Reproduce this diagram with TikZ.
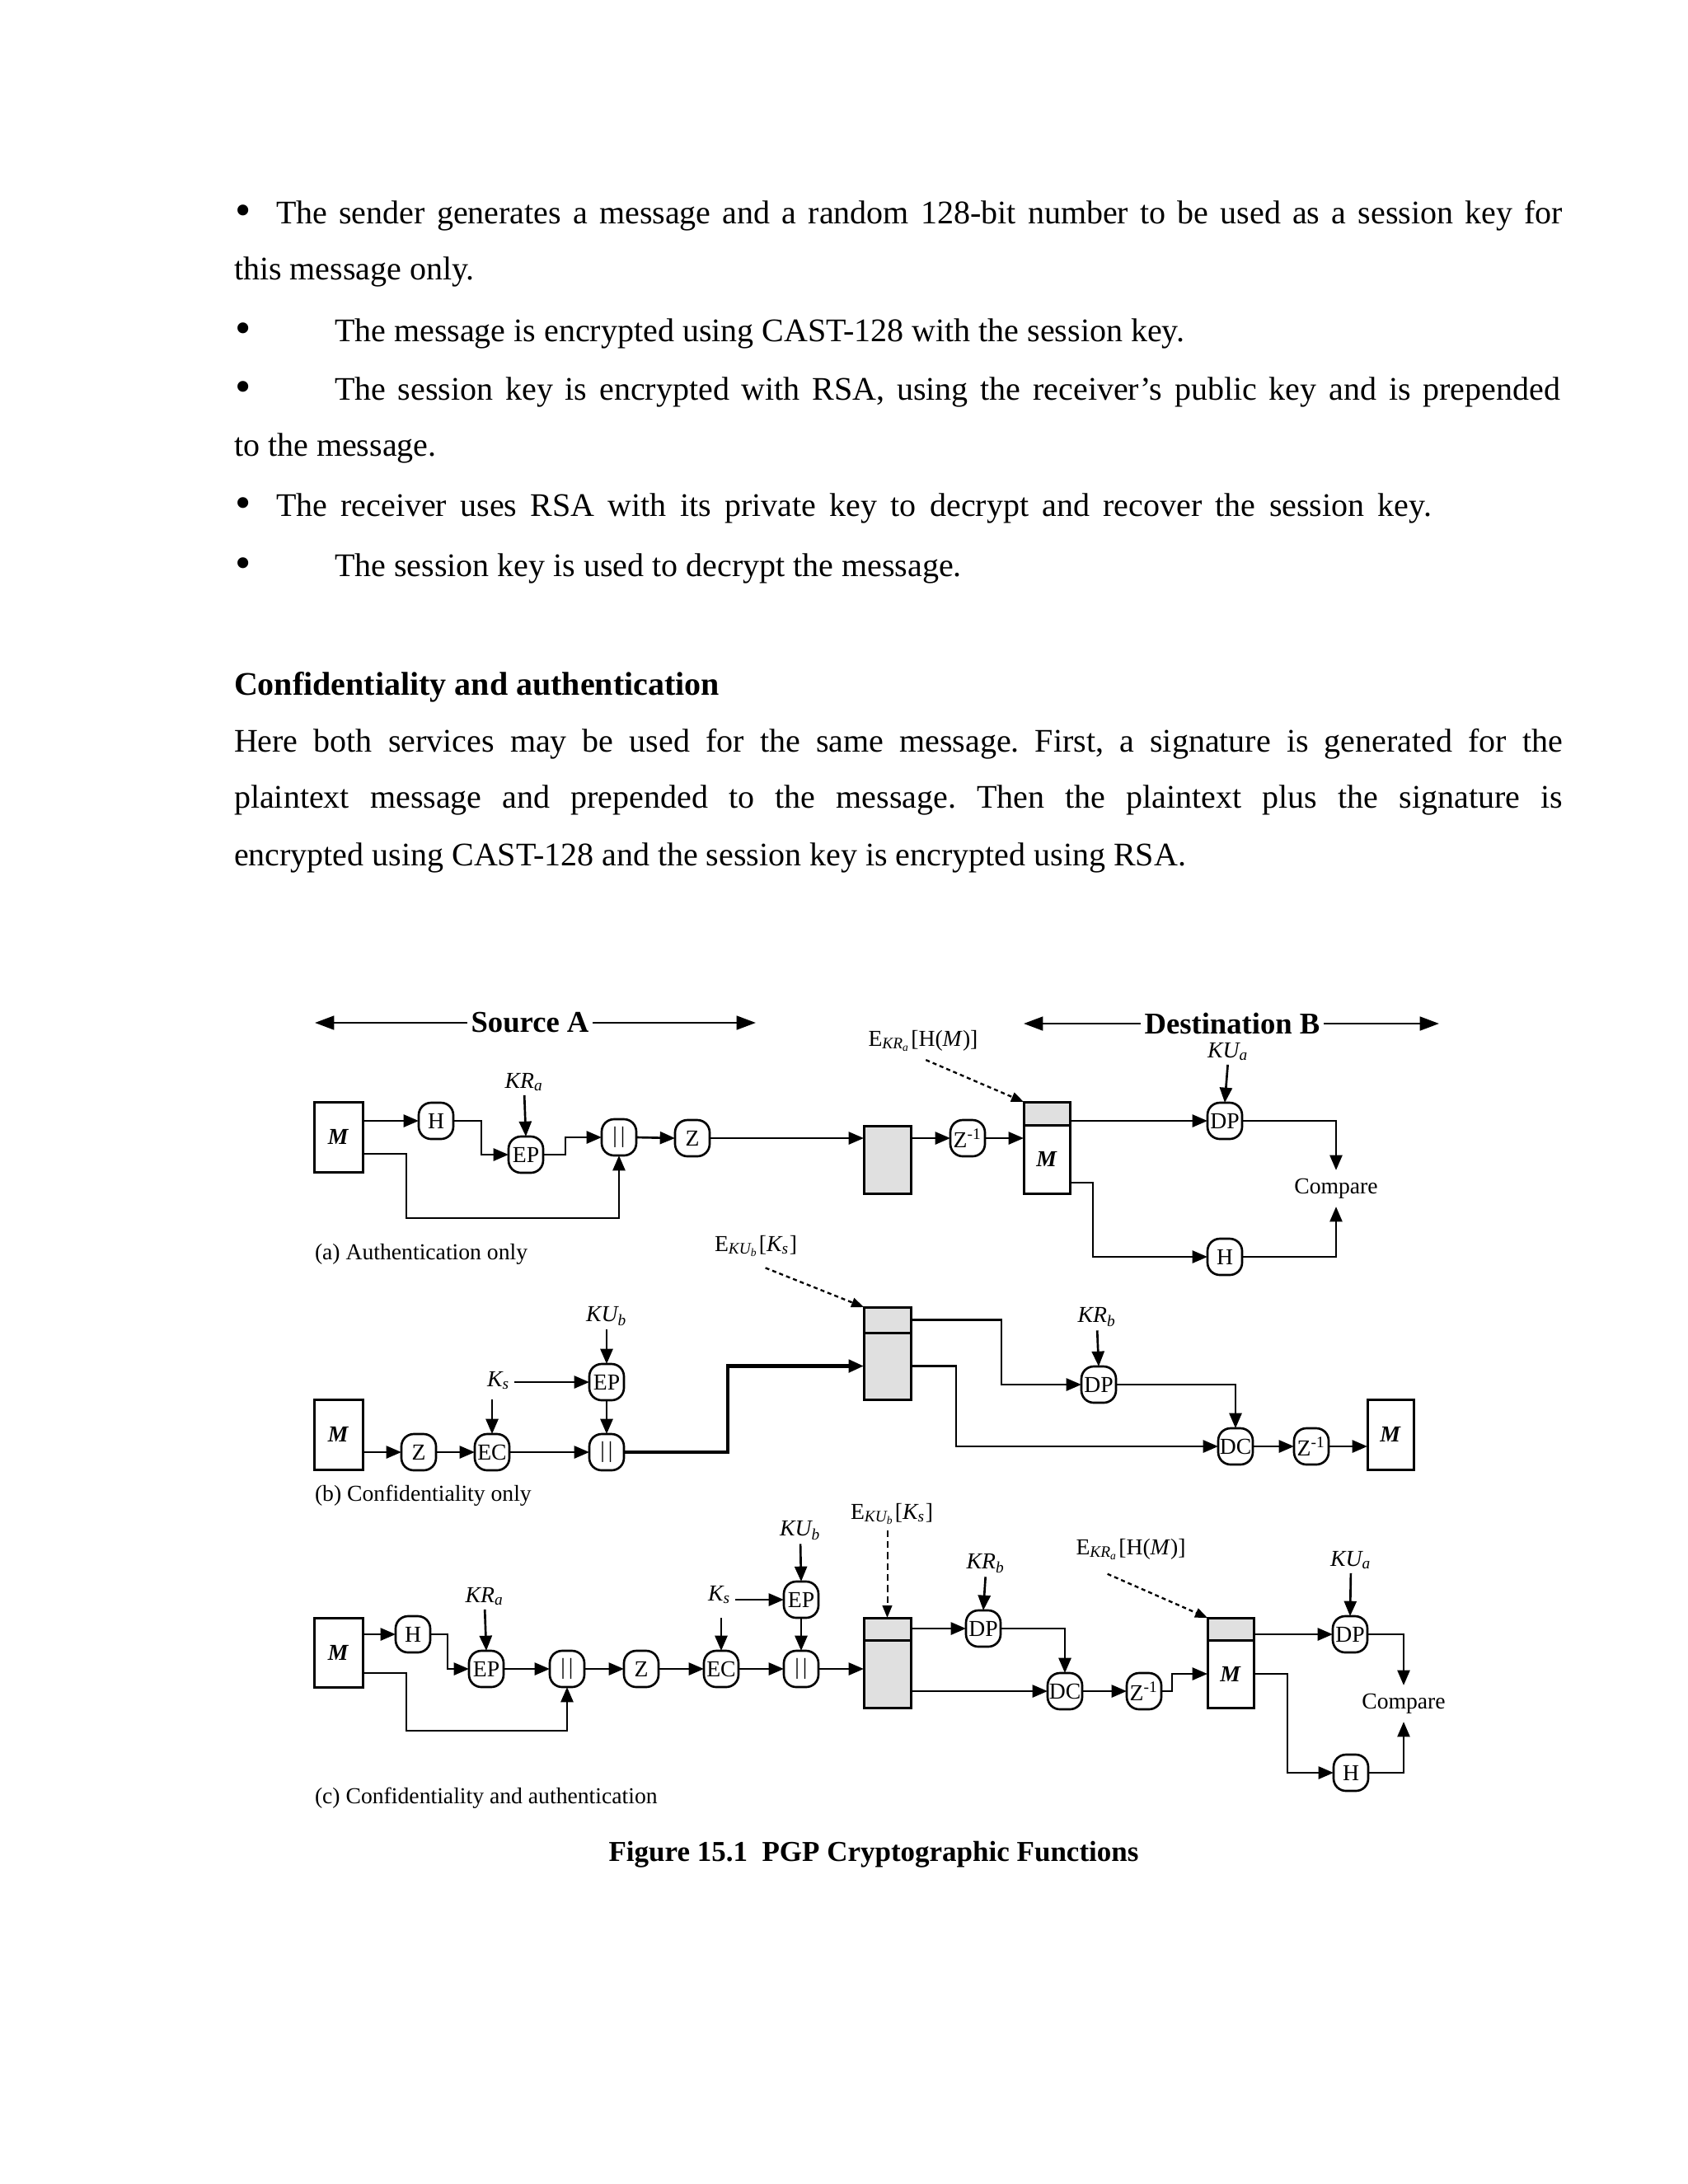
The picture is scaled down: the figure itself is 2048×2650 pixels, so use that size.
\documentclass[tikz,border=0pt]{standalone}
\usepackage{fontspec}
\setmainfont{Liberation Serif}
\usetikzlibrary{arrows.meta,calc}
\newcommand{\dsz}{\fontsize{8.3}{9.5}\selectfont}
\newcommand{\MM}{\textbf{\textit{M}}}
\newcommand{\cat}{|\hspace{1.2pt}|}
\newcommand{\bul}{\raisebox{-0.6pt}{\fontsize{16.5}{16}\selectfont\textbullet}}
\frenchspacing
\begin{document}
\begin{tikzpicture}[x=0.3pt,y=-0.3pt,
  every node/.style={inner sep=0pt, outer sep=0pt},
  op/.style={draw, line width=0.8pt, rounded corners=4.5pt, minimum width=12.6pt, minimum height=13.2pt, font=\dsz},
  wbox/.style={draw, line width=0.9pt, fill=white, font=\dsz},
  gbox/.style={draw, line width=0.9pt, fill=black!12},
  lbl/.style={font=\dsz},
  arr/.style={line width=0.8pt, -{Triangle[length=5.5pt,width=4.5pt]}},
  karr/.style={arr, shorten <=1.5pt},
  harr/.style={line width=0.8pt, -{Triangle[length=7pt,width=5pt]}},
  dots/.style={line width=0.7pt, dash pattern=on 1.5pt off 1.2pt, -{Triangle[length=4.5pt,width=3.5pt]}},
  dashv/.style={line width=0.6pt, dash pattern=on 2.5pt off 1.5pt, -{Triangle[length=4.5pt,width=3.5pt]}},
  body/.style={anchor=base west, font=\fontsize{12}{14.4}\selectfont},
  head/.style={font=\bfseries\fontsize{11}{13}\selectfont, inner xsep=1.5pt},
]
\useasboundingbox (0,0) rectangle (2048,2650);
\fill[white] (0,0) rectangle (2048,2650);

% ---------------- body text ----------------
\node[body] (b1) at (285,271) {\bul};
\node[body] (t1) at (335,271) {\makebox[468.3pt][s]{The sender generates a message and a random 128-bit number to be used as a session key for}};
\node[body] (t2) at (284,339) {this message only.};
\node[body] (b3) at (285,414) {\bul};
\node[body] (t3) at (406,414) {The message is encrypted using CAST-128 with the session key.};
\node[body] (b4) at (285,485) {\bul};
\node[body] (t4) at (406,485) {\makebox[446.1pt][s]{The session key is encrypted with RSA, using the receiver’s public key and is prepended}};
\node[body] (t5) at (284,553) {to the message.};
\node[body] (b6) at (285,626) {\bul};
\node[body] (t6) at (335,626) {\makebox[420.6pt][s]{The receiver uses RSA with its private key to decrypt and recover the session key.}};
\node[body] (b7) at (285,699) {\bul};
\node[body] (t7) at (406,699) {The session key is used to decrypt the message.};
\node[body, font=\bfseries\fontsize{12}{14.4}\selectfont] (h1) at (284,843) {Confidentiality and authentication};
\node[body] (p1) at (284,912) {\makebox[483.6pt][s]{Here both services may be used for the same message. First, a signature is generated for the}};
\node[body] (p2) at (284,980) {\makebox[483.6pt][s]{plaintext message and prepended to the message. Then the plaintext plus the signature is}};
\node[body] (p3) at (284,1050) {encrypted using CAST-128 and the session key is encrypted using RSA.};

% ---------------- (a) Authentication only ----------------
\node[head] (srcA) at (643,1241) {Source A};
\coordinate (srcAl) at (382,1241);
\coordinate (srcAr) at (917,1241);
\draw[harr] (srcA.west) -- (srcAl);
\draw[harr] (srcA.east) -- (srcAr);

\node[wbox, minimum width=17.7pt, minimum height=25.5pt] (mA) at (410.5,1379.5) {\MM};
\node[op] (hA) at (529,1360) {H};
\node[op] (epA) at (638,1401) {EP};
\node[lbl] (kraA) at (636,1313) {\textit{KR\textsubscript{a}}};
\node[op] (catA) at (751,1380) {\cat};
\node[op] (zA) at (840,1381) {Z};
\node[gbox, minimum width=17.1pt, minimum height=24.6pt] (gA) at (1076.5,1407) {};
\node[op] (ziA) at (1174,1381) {Z\textsuperscript{-1}};
\node[gbox, minimum width=16.8pt, minimum height=8.4pt] (dtA) at (1270,1351) {};
\node[wbox, minimum width=16.8pt, minimum height=24.9pt] (dmA) at (1270,1406.5) {\MM};

\draw[arr] (mA.east |- hA) -- (hA.west);
\draw[arr] (hA.east) -- ++(34,0) |- (epA.west);
\draw[karr] (kraA.south) -- (epA.north);
\draw[arr] (epA.east) -- ++(27,0) |- (catA.west);
\draw[arr] ($(mA.south east)+(0,-22)$) -- ++(53,0) -- ++(0,78) -| (catA.south);
\draw[arr] (catA.east) -- (zA.west);
\draw[arr] (zA.east) -- (zA -| gA.west);
\draw[arr] (gA.east |- ziA) -- (ziA.west);
\draw[arr] (ziA.east) -- (ziA -| dmA.west);

\node[lbl] (ekrA) at (1120,1263) {E\textsubscript{\textit{KR\textsubscript{a}}}[H(\textit{M})]};
\draw[dots] ([xshift=1pt,yshift=-3pt]ekrA.south) -- (dtA.north west);

\node[head] (dstB) at (1495,1242) {Destination B};
\coordinate (dstBl) at (1242,1242);
\coordinate (dstBr) at (1746,1242);
\draw[harr] (dstB.west) -- (dstBl);
\draw[harr] (dstB.east) -- (dstBr);

\node[lbl] (kuaA) at (1490,1276) {\textit{KU\textsubscript{a}}};
\node[op] (dpA) at (1486,1360) {DP};
\draw[karr] (kuaA.south) -- (dpA.north);
\draw[arr] (dtA.east |- dpA) -- (dpA.west);
\node[lbl, outer sep=3pt] (cmpA) at (1621,1442) {Compare};
\draw[arr] (dpA.east) -| (cmpA.north);
\node[op] (hA2) at (1486,1525) {H};
\draw[arr] ($(dmA.south east)+(0,-13)$) -- ++(28,0) |- (hA2.west);
\draw[arr] (hA2.east) -| (cmpA.south);

\node[lbl, anchor=west] (capA) at (382,1522) {(a) Authentication only};

% ---------------- (b) Confidentiality only ----------------
\node[lbl] (ekuB) at (917,1512) {E\textsubscript{\textit{KU\textsubscript{b}}}[\textit{K\textsubscript{s}}]};
\node[gbox, minimum width=17.1pt, minimum height=9.3pt] (gkB) at (1076.5,1601.5) {};
\node[gbox, minimum width=17.1pt, minimum height=24.3pt] (gmB) at (1076.5,1657.5) {};
\draw[dots] ([xshift=3.5pt,yshift=-4pt]ekuB.south) -- (gkB.north west);

\node[lbl] (kubB) at (736,1597) {\textit{KU\textsubscript{b}}};
\node[op] (epB) at (736,1677) {EP};
\draw[karr] (kubB.south) -- (epB.north);
\node[lbl] (ksB) at (605,1675) {\textit{K\textsubscript{s}}};
\draw[karr] (ksB.east |- epB) -- (epB.west);

\node[wbox, minimum width=17.7pt, minimum height=25.5pt] (mB) at (410.5,1740.5) {\MM};
\node[op] (zB) at (508,1762) {Z};
\node[op] (ecB) at (597,1762) {EC};
\node[op] (catB) at (736,1762) {\cat};
\draw[arr] (mB.east |- zB) -- (zB.west);
\draw[arr] (zB.east) -- (ecB.west);
\draw[arr] (ecB.east) -- (catB.west);
\coordinate (ksinB) at (597,1698);
\draw[arr] (ksinB) -- (ecB.north);
\draw[arr] (epB.south) -- (catB.north);
\draw[line width=1.4pt, -{Triangle[length=5.5pt,width=4.5pt]}] (catB.east) -- ++(126,0) |- (gmB.west);

\node[op] (dpB) at (1333,1680) {DP};
\node[lbl] (krbB) at (1331,1598) {\textit{KR\textsubscript{b}}};
\draw[karr] (krbB.south) -- (dpB.north);
\draw[arr] (gkB.east) -- ++(110,0) |- (dpB.west);
\node[op] (dcB) at (1499,1755) {DC};
\draw[arr] (dpB.east) -| (dcB.north);
\draw[arr] (gmB.east) -- ++(55,0) |- (dcB.west);
\node[op] (ziB) at (1591,1755) {Z\textsuperscript{-1}};
\node[wbox, minimum width=16.8pt, minimum height=25.5pt] (mB2) at (1687,1740.5) {\MM};
\draw[arr] (dcB.east) -- (ziB.west);
\draw[arr] (ziB.east) -- (ziB -| mB2.west);

\node[lbl, anchor=west] (capB) at (382,1815) {(b) Confidentiality only};

% ---------------- (c) Confidentiality and authentication ----------------
\node[wbox, minimum width=17.7pt, minimum height=25.2pt] (mC) at (410.5,2005) {\MM};
\node[op] (hC) at (501,1983) {H};
\draw[arr] (mC.east |- hC) -- (hC.west);
\node[op] (epC) at (590,2025) {EP};
\draw[arr] (hC.east) -- ++(21,0) |- (epC.west);
\node[lbl] (kraC) at (588,1937) {\textit{KR\textsubscript{a}}};
\draw[karr] (kraC.south) -- (epC.north);
\node[op] (catC) at (688,2025) {\cat};
\draw[arr] (epC.east) -- (catC.west);
\draw[arr] ($(mC.south east)+(0,-17)$) -- ++(53,0) -- ++(0,70) -| (catC.south);
\node[op] (zC) at (778,2025) {Z};
\node[op] (ecC) at (875,2025) {EC};
\node[op] (catC2) at (972,2025) {\cat};
\node[op] (epC2) at (972,1941) {EP};
\node[lbl] (ksC) at (873,1935) {\textit{K\textsubscript{s}}};
\node[lbl] (kubC) at (971,1857) {\textit{KU\textsubscript{b}}};
\draw[arr] (catC.east) -- (zC.west);
\draw[arr] (zC.east) -- (ecC.west);
\draw[arr] (ecC.east) -- (catC2.west);
\draw[karr] (ksC.east |- epC2) -- (epC2.west);
\coordinate (ksinC) at (875,1963);
\draw[arr] (ksinC) -- (ecC.north);
\draw[karr] (kubC.south) -- (epC2.north);
\draw[arr] (epC2.south) -- (catC2.north);
\node[gbox, minimum width=17.1pt, minimum height=8.1pt] (gkC) at (1076.5,1976.5) {};
\node[gbox, minimum width=17.1pt, minimum height=24.6pt] (gmC) at (1076.5,2031) {};
\draw[arr] (catC2.east) -- (catC2 -| gmC.west);
\node[lbl] (ekuC) at (1082,1837) {E\textsubscript{\textit{KU\textsubscript{b}}}[\textit{K\textsubscript{s}}]};
\draw[dashv, shorten <=2pt] (ekuC.south -| gkC.north) -- (gkC.north);

\node[op] (dpC) at (1193,1976) {DP};
\node[lbl] (krbC) at (1196,1897) {\textit{KR\textsubscript{b}}};
\draw[karr] (krbC.south) -- (dpC.north);
\draw[arr] (gkC.east |- dpC) -- (dpC.west);
\node[op] (dcC) at (1292,2052) {DC};
\draw[arr] (dpC.east) -| (dcC.north);
\draw[arr] (gmC.east |- dcC) -- (dcC.west);
\node[op] (ziC) at (1388,2052) {Z\textsuperscript{-1}};
\draw[arr] (dcC.east) -- (ziC.west);
\node[gbox, minimum width=16.8pt, minimum height=8.1pt] (dkC) at (1493,1976.5) {};
\node[wbox, minimum width=16.8pt, minimum height=24.6pt] (dmC) at (1493,2031) {\MM};
\draw[arr] (ziC.east) -- ++(13,0) |- (dmC.west);
\node[lbl] (ekrC) at (1372,1880) {E\textsubscript{\textit{KR\textsubscript{a}}}[H(\textit{M})]};
\draw[dots] ([xshift=-8.5pt,yshift=-5pt]ekrC.south) -- (dkC.north west);

\node[op] (dpC2) at (1638,1983) {DP};
\node[lbl] (kuaC) at (1639,1893) {\textit{KU\textsubscript{a}}};
\draw[karr] (kuaC.south) -- (dpC2.north);
\draw[arr] (dkC.east |- dpC2) -- (dpC2.west);
\node[lbl, outer sep=3pt] (cmpC) at (1703,2067) {Compare};
\draw[arr] (dpC2.east) -| (cmpC.north);
\node[op] (hC2) at (1639,2151) {H};
\draw[arr] (dmC.east) -- ++(41,0) |- (hC2.west);
\draw[arr] (hC2.east) -| (cmpC.south);

\node[lbl, anchor=west] (capC) at (382,2182) {(c) Confidentiality and authentication};
\node[font=\bfseries\fontsize{10.5}{12.5}\selectfont] (fig) at (1060,2250) {Figure 15.1\enspace PGP Cryptographic Functions};
\end{tikzpicture}
\end{document}
